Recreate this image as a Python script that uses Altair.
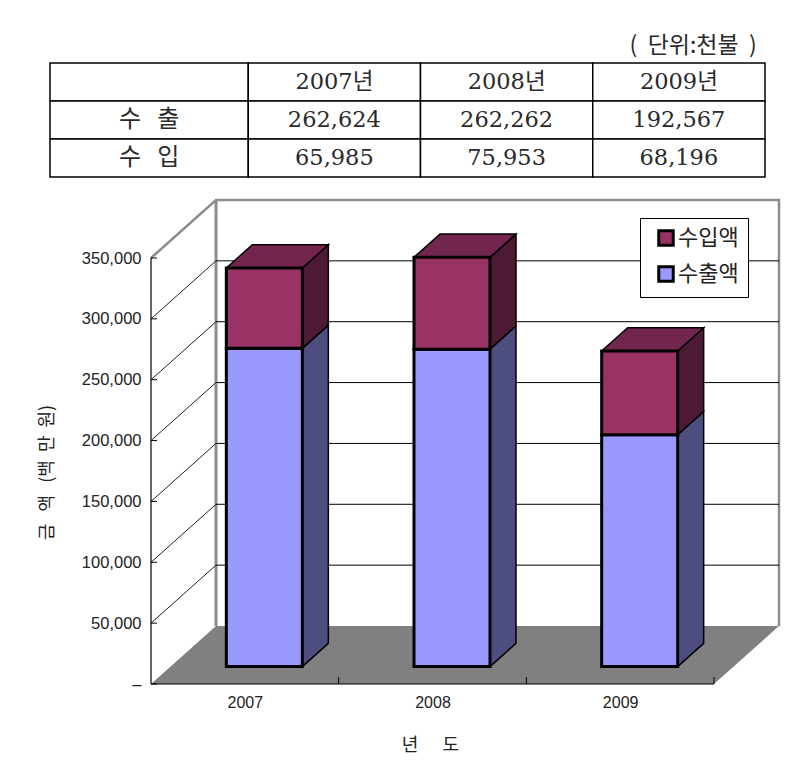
import altair as alt
import pandas as pd

NB = "\u00a0"
years = ["2007", "2008", "2009"]
# table values (thousand dollars), printed in the table
exports = [262624, 262262, 192567]
imports = [65985, 75953, 68196]
# bar values
bar_exports = [261500, 260800, 190500]
bar_imports = [66000, 75500, 68800]
y_ticks = [0, 50000, 100000, 150000, 200000, 250000, 300000, 350000]
row_names = ["수" + NB * 3 + "출", "수" + NB * 3 + "입"]
series = ["수입액", "수출액"]
unit_note = "(" + NB * 2 + "단위:천불" + NB * 2 + ")"
x_title = "년" + NB * 6 + "도"
y_title = "금" + NB * 3 + "액" + NB * 3 + "(백" + NB * 2 + "만" + NB * 2 + "원)"

C_EXP = ["#9999FF", "#4D4D80", "#6E6EB8"]
C_IMP = ["#993366", "#4D1933", "#73264D"]

# ---- projection of the pseudo 3D box (category units, value units, depth 0..1)
PX_U = 563 / 3
PX_V = 426 / 350000
DX = 65 / PX_U
DV = 58 / PX_V
def pu(u, z=0.0):
    return u + z * DX
def pv(v, z=0.0):
    return v + z * DV

x_scale = alt.Scale(domain=[(8 - 151) / PX_U, (804 - 151) / PX_U], nice=False, zero=False)
y_scale = alt.Scale(domain=[(684 - 752) / PX_V, (684 - 190) / PX_V], nice=False, zero=False)
x_axis = alt.Axis(
    title=x_title, values=[0.5, 1.5, 2.5], offset=-68, domain=False, ticks=False, grid=False,
    labelExpr="datum.value < 1 ? '%s' : datum.value < 2 ? '%s' : '%s'" % tuple(years),
    labelFont="Liberation Sans", labelFontSize=16, labelColor="#222222", labelPadding=10,
    titleFont="Noto Sans CJK KR", titleFontSize=18, titleFontWeight="normal", titleColor="#222222",
    titleX=422, titleY=52)
y_axis = alt.Axis(
    title=y_title, values=y_ticks, offset=-143, domain=False, ticks=False, grid=False,
    labelExpr="datum.value === 0 ? '–' : format(datum.value, ',')",
    labelFont="Liberation Sans", labelFontSize=16.5, labelColor="#222222", labelPadding=10,
    titleFont="Noto Sans CJK KR", titleFontSize=18, titleFontWeight="normal", titleColor="#222222",
    titleX=-95, titleY=282)
X = lambda f="x": alt.X(f + ":Q", scale=x_scale, axis=x_axis)
Y = lambda f="y": alt.Y(f + ":Q", scale=y_scale, axis=y_axis)

TOPV = y_ticks[-1]
BW = 0.405
Z0, Z1 = 0.3, 0.7

# floor
floor = pd.DataFrame({"y": [pv(0, 0), pv(0, 1)], "x": [pu(0, 0), pu(0, 1)], "x2": [pu(3, 0), pu(3, 1)]})
floor_l = alt.Chart(floor).mark_area(orient="horizontal", color="#808080").encode(
    y=Y(), x=X(), x2="x2:Q")

# gridlines on back wall
grid = pd.DataFrame([{"x": pu(0, 1), "x2": pu(3, 1), "y": pv(v, 1)} for v in y_ticks[1:-1]])
grid_l = alt.Chart(grid).mark_rule(color="#000000", strokeWidth=1).encode(x=X(), x2="x2:Q", y=Y())
diag = pd.DataFrame([r for v in y_ticks[1:-1] for r in
                     ({"v": v, "x": pu(0, 0), "y": pv(v, 0)}, {"v": v, "x": pu(0, 1), "y": pv(v, 1)})])
diag_l = alt.Chart(diag).mark_line(color="#222222", strokeWidth=1).encode(x=X(), y=Y(), detail="v:Q")

# gray wall edge
wall = pd.DataFrame([
    {"i": 0, "x": pu(0, 0), "y": pv(TOPV, 0)}, {"i": 1, "x": pu(0, 1), "y": pv(TOPV, 1)},
    {"i": 2, "x": pu(3, 1), "y": pv(TOPV, 1)}, {"i": 3, "x": pu(3, 1), "y": pv(0, 1)},
])
wall_l = alt.Chart(wall).mark_line(color="#8C8C8C", strokeWidth=2.5).encode(x=X(), y=Y(), order="i:Q")
wall2 = pd.DataFrame({"x": [pu(0, 1)], "y": [pv(0, 1)], "y2": [pv(TOPV, 1)]})
wall2_l = alt.Chart(wall2).mark_rule(color="#8C8C8C", strokeWidth=3).encode(x=X(), y=Y(), y2="y2:Q")

# axis lines and ticks
ax_y = pd.DataFrame({"x": [0.0], "y": [0.0], "y2": [float(TOPV)]})
ax_y_l = alt.Chart(ax_y).mark_rule(color="#000000", strokeWidth=1.2).encode(x=X(), y=Y(), y2="y2:Q")
ax_x = pd.DataFrame({"x": [0.0], "x2": [3.0], "y": [0.0]})
ax_x_l = alt.Chart(ax_x).mark_rule(color="#000000", strokeWidth=1.2).encode(x=X(), x2="x2:Q", y=Y())
yt = pd.DataFrame({"x": [0.0] * len(y_ticks), "x2": [6 / PX_U] * len(y_ticks), "y": y_ticks})
yt_l = alt.Chart(yt).mark_rule(color="#000000", strokeWidth=1).encode(x=X(), x2="x2:Q", y=Y())
xt = pd.DataFrame({"x": [1.0, 2.0, 3.0], "y": [0.0] * 3, "y2": [7 / PX_V] * 3})
xt_l = alt.Chart(xt).mark_rule(color="#000000", strokeWidth=1).encode(x=X(), y=Y(), y2="y2:Q")

# bars
front, side, top = [], [], []
for i, yr in enumerate(years):
    u0 = i + 0.5 - BW / 2
    u1 = u0 + BW
    base, mid, tip = 0.0, float(bar_exports[i]), float(bar_exports[i] + bar_imports[i])
    for nm, lo, hi in ((series[1], base, mid), (series[0], mid, tip)):
        front.append({"yr": yr, "s": nm, "x": pu(u0, Z0), "x2": pu(u1, Z0), "y": pv(lo, Z0), "y2": pv(hi, Z0)})
        for z in (Z0, Z1):
            side.append({"yr": yr, "s": nm, "x": pu(u1, z), "y": pv(lo, z), "y2": pv(hi, z)})
    top += [{"yr": yr, "y": pv(tip, z), "x": pu(u0, z), "x2": pu(u1, z)} for z in (Z0, Z1)]
front, side, top = pd.DataFrame(front), pd.DataFrame(side), pd.DataFrame(top)

side_exp = alt.Chart(side[side.s == series[1]]).mark_area(color=C_EXP[1], stroke="#000000", strokeWidth=1.5).encode(
    x=X(), y=Y(), y2="y2:Q", detail="yr:N")
side_imp = alt.Chart(side[side.s == series[0]]).mark_area(color=C_IMP[1], stroke="#000000", strokeWidth=1.5).encode(
    x=X(), y=Y(), y2="y2:Q", detail="yr:N")
top_l = alt.Chart(top).mark_area(orient="horizontal", color=C_IMP[2], stroke="#000000", strokeWidth=1.5).encode(
    y=Y(), x=X(), x2="x2:Q", detail="yr:N")
front_l = alt.Chart(front).mark_rect(stroke="#000000", strokeWidth=3).encode(
    x=X(), x2="x2:Q", y=Y(), y2="y2:Q",
    color=alt.Color("s:N", scale=alt.Scale(domain=series, range=[C_IMP[0], C_EXP[0]]),
                    legend=alt.Legend(
                        orient="none", legendX=632, legendY=210, title=None,
                        fillColor="#FFFFFF", strokeColor="#000000", padding=9,
                        symbolType="square", symbolSize=210, symbolStrokeColor="#000000",
                        symbolStrokeWidth=3, labelFont="Noto Sans CJK KR", labelFontSize=22,
                        labelColor="#222222", labelLimit=140, rowPadding=8, symbolOffset=6,
                        labelOffset=1, labelExpr="datum.label + '\u00a0\u00a0\u00a0'")),
)

plot = alt.layer(floor_l, wall2_l, wall_l, grid_l, diag_l, ax_y_l, ax_x_l, yt_l, xt_l,
                 side_exp, side_imp, top_l, front_l).properties(width=796, height=562)

# ---- table
col_edges = [0, 1.151, 2.151, 3.151, 4.151]
PX_C = 715 / 4.151
PX_R = 38
tx_scale = alt.Scale(domain=[(8 - 50) / PX_C, (804 - 50) / PX_C], nice=False, zero=False)
ty_scale = alt.Scale(domain=[(185 - 63) / PX_R, (8 - 63) / PX_R], nice=False, zero=False)
TX = lambda f="x": alt.X(f + ":Q", scale=tx_scale, axis=None)
TY = lambda f="y": alt.Y(f + ":Q", scale=ty_scale, axis=None)

fmt = lambda v: f"{v:,}"
rows = [[""] + [y + "년" for y in years],
        [row_names[0]] + [fmt(v) for v in exports],
        [row_names[1]] + [fmt(v) for v in imports]]
cells = pd.DataFrame([
    {"x": col_edges[c], "x2": col_edges[c + 1], "y": r, "y2": r + 1,
     "xm": (col_edges[c] + col_edges[c + 1]) / 2, "ym": r + 0.5, "t": rows[r][c], "c": c}
    for r in range(3) for c in range(4)])
cell_l = alt.Chart(cells).mark_rect(fill="#FFFFFF", stroke="#000000", strokeWidth=1.5).encode(
    x=TX(), x2="x2:Q", y=TY(), y2="y2:Q")
text_l = alt.Chart(cells[cells.c > 0]).mark_text(font="DejaVu Serif, Noto Sans CJK KR", fontSize=22.5, color="#2A2A2A",
                                                 baseline="middle", align="center").encode(
    x=TX("xm"), y=TY("ym"), text="t:N")
head_l = alt.Chart(cells[(cells.c == 0) & (cells.t != "")]).mark_text(font="Noto Sans CJK KR", fontSize=24, color="#2A2A2A",
                                                baseline="middle", align="center").encode(
    x=TX("xm"), y=TY("ym"), text="t:N")
note = pd.DataFrame({"x": [3.734], "y": [-0.447], "t": [unit_note]})
note_l = alt.Chart(note).mark_text(font="Noto Sans CJK KR", fontSize=23, color="#2A2A2A",
                                   baseline="middle", align="center").encode(
    x=TX(), y=TY(), text="t:N")
table = alt.layer(cell_l, text_l, head_l, note_l).properties(width=796, height=177)

chart = alt.vconcat(table, plot, spacing=5).properties(padding=0).configure_view(stroke=None)
chart.save("out.html", embed_options={"renderer": "svg", "actions": False})
